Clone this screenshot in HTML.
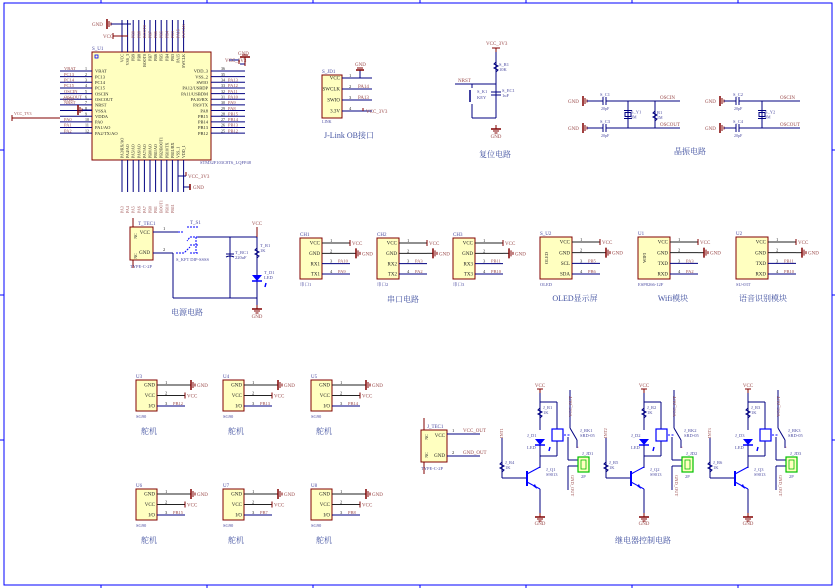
<!DOCTYPE html>
<html><head><meta charset="utf-8">
<style>
html,body{margin:0;padding:0;background:#fff;width:835px;height:588px;overflow:hidden}
svg{display:block}
text{font-family:"Liberation Serif","Noto Serif CJK SC",serif}
</style></head>
<body>
<svg id="s" width="835" height="588" viewBox="0 0 835 588" xmlns="http://www.w3.org/2000/svg">
<rect x="4" y="3" width="828" height="582" fill="none" stroke="#0000ff" stroke-width="1"/>
</svg>
<script>
var S=document.getElementById('s'),NS='http://www.w3.org/2000/svg';
var W='#000080',R='#800000',N='#9a4a4a',D='#4a4aa0',K='#222';
function el(t,a,txt){var e=document.createElementNS(NS,t);for(var k in a)e.setAttribute(k,a[k]);if(txt!=null)e.textContent=txt;S.appendChild(e);return e;}
function L(x1,y1,x2,y2,c,w){el('line',{x1:x1,y1:y1,x2:x2,y2:y2,stroke:c||W,'stroke-width':w||1});}
function T(x,y,s,sz,c,anc,rot){var a={x:x,y:y,'font-size':sz||5,fill:c||K};if(anc)a['text-anchor']=anc;if(rot)a.transform='rotate('+rot+' '+x+' '+y+')';el('text',a,s);}
function B(x,y,w,h){el('rect',{x:x,y:y,width:w,height:h,fill:'#ffffc0',stroke:R,'stroke-width':1});}
function GNDr(x,y){L(x,y-5,x,y+5,R,1.5);L(x+2,y-3,x+2,y+3,R,1);L(x+4,y-1.5,x+4,y+1.5,R,1);}
function GNDd(x,y){L(x,y,x,y+4,R);L(x-5,y+4,x+5,y+4,R,1.5);L(x-3,y+6,x+3,y+6,R);L(x-1.5,y+8,x+1.5,y+8,R);}
function TITLE(x,y,s){T(x,y,s,8,'#4050a0','middle');}
[101,207,313,420,526,632,738].forEach(function(x){L(x,0,x,3,'#0000ff');L(x,585,x,588,'#0000ff');});
[150,295,440].forEach(function(y){L(0,y,4,y,'#0000ff');L(832,y,835,y,'#0000ff');});

// ===== MCU =====
B(92,52,119,108);
T(92,50,'S_U1',5,D);
var lp=['VBAT','PC13','PC14','PC15','OSCIN','OSCOUT','NRST','VSSA','VDDA','PA0','PA1/AO','PA2/TX/AO'];
var ln=['VBAT','PC13','PC14','PC15','OSCIN','OSCOUT','NRST','GND','VCC_3V3','PA0','PA1','PA2'];
var rp=['VDD_3','VSS_2','SWIO','PA12/USBDP','PA11/USBDM','PA10/RX','PA9/TX','PA8','PB15','PB14','PB13','PB12'];
var rn=['','','PA13','PA12','PA11','PA10','PA9','PA8','PB15','PB14','PB13','PB12'];
for(var i=0;i<12;i++){var y=71+i*5.65;
 L(60,y,92,y);T(95,y+1.7,lp[i],4.5);T(85,y-0.8,''+(i+1),4);
 if(ln[i]!=='GND'&&ln[i]!=='VCC_3V3')T(64,y-0.8,ln[i],4.5,N);
 L(211,y,245,y);T(208,y+1.7,rp[i],4.5,K,'end');T(221,y-0.8,''+(36-i),4);
 if(rn[i])T(228,y-0.8,rn[i],4.5,N);}
T(63,101,'GND',5,N);GNDr(78,110);L(82,110,92,110);L(12,118,60,118,R);L(12,115,12,121,R);T(14,115,'VCC_TV3',4,N);
var tn=['','','PB9','PB8','BOOT0','PB7','PB6','PB5','PB4','PB3','PA15','SWCLK'];
for(var i=0;i<12;i++){var x=122+i*5.6;
 L(x,20,x,52);T(x+1.5,54,['VCC','VSS_3','PB9','PB8','BOOT0','PB7','PB6','PB5','PB4','PB3','PA15','SWCLK'][i],4,K,'end',-90);
 if(tn[i])T(x+1.5,38,tn[i],4,N,'start',-90);
 L(x,160,x,192);T(x+1.5,158,['PA3/RX/AO','PA4/AO','PA5/AO','PA6/AO','PA7/AO','PB0/AO','PB1/AO','PB2/BOOT1','PB10/TX','PB11/RX','VSS_1','VDD_1'][i],4,K,'start',-90);
 if(i<10)T(x+1.5,213,['PA3','PA4','PA5','PA6','PA7','PB0','PB1','BOOT1','PB10','PB11'][i],4,N,'start',-90);}
GNDr(107,24);L(111,24,131,24,W);T(92,26,'GND',5,N);
L(113,36,128,36,R);L(113,33,113,39,R);T(103,38,'VCC',5,N);
L(229,60,239,60);L(239,60,239,64,R);T(225,62,'VCC_3V3',5,N);L(240,64,245,64);
L(245,66,245,57,R);L(240,57,250,57,R,1.5);L(242,55,248,55,R);T(238,55,'GND',5,N);
L(178,176,186,176);L(186,176,186,172,R);T(188,178,'VCC_3V3',5,N);
L(183,187,190,187);L(190,184,190,190,R,1.5);T(193,189,'GND',5,N);
T(200,164,'STM32F103C8T6_LQFP48',4.5,D);
el('rect',{x:95,y:55,width:3,height:3,fill:'none',stroke:'#00f','stroke-width':0.8});

// ===== J-Link =====
T(322,73,'S_JD1',5,D);B(322,75,20,43);
['VCC','SWCLK','SWIO','3.3V'].forEach(function(s,i){var y=78+i*11;L(342,y,372,y);T(340,y+1.7,s,5,K,'end');T(349,y-1,''+(i+1),4.5);});
L(360,78,360,70);L(356,70,364,70,R,1.5);L(357,68,363,68,R);T(355,66,'GND',5,N);
T(358,88,'PA14',5,N);T(358,99,'PA13',5,N);L(363,111,363,108,R);T(366,113,'VCC_3V3',5,N);
T(322,123,'LINK',4,D);TITLE(349,138,'J-Link OB接口');

// ===== Reset =====
T(486,45,'VCC_3V3',5,N);L(496,48,496,52,R);L(492,48,500,48,R);
L(496,52,496,118);L(455,84,496,84);T(458,82,'NRST',5,N);
el('path',{d:'M496 62 l-2 2 l4 2 l-4 2 l4 2 l-2 2',fill:'none',stroke:W});T(499,66,'S_R1',4.5,D);T(499,71,'10K',4.5,D);
L(491,92,501,92);L(491,95,501,95);T(502,92,'S_EC1',4.5,D);T(502,97,'1uF',4.5,D);
L(472,84,472,88);L(472,104,472,118);L(470,90,470,102,W,1.5);T(477,93,'S_K1',4.5,D);T(477,99,'KEY',4.5,D);
L(472,118,496,118);GNDd(496,125);T(496,138,'GND',5,N,'middle');
TITLE(495,157,'复位电路');

// ===== Crystal =====
function xtal(g,c,y1,y2,xr,xe,r,names){
 GNDr(g,y1);GNDr(g,y2);T(g-15,y1+2,'GND',5,N);T(g-15,y2+2,'GND',5,N);
 [y1,y2].forEach(function(y,i){L(g+4,y,c-2,y);L(c-2,y-4,c-2,y+4);L(c+1,y-4,c+1,y+4);L(c+1,y,xe,y);T(c-5,y-5,names[i],4.5,D);T(c-4,y+9,names[i+2],4,D);});
 L(xr,y1,xr,y2);el('rect',{x:xr-3,y:(y1+y2)/2-2,width:6,height:4,fill:'none',stroke:W});L(xr-4,(y1+y2)/2-4,xr+4,(y1+y2)/2-4);L(xr-4,(y1+y2)/2+4,xr+4,(y1+y2)/2+4);
 T(xr+3,(y1+y2)/2-1,names[4],4.5,D);T(xr+3,(y1+y2)/2+4,names[5],4,D);
 if(r){L(r,y1,r,y2);el('path',{d:'M'+r+' '+(y1+10)+' l-2 2 l4 2 l-4 2 l4 2 l-2 2',fill:'none',stroke:W});T(r+2,y1+13,'R1',4.5,D);T(r+2,y1+18,'1M',4,D);}
 T(xe-20,y1-2,'OSCIN',5,N);T(xe-20,y2-2,'OSCOUT',5,N);}
xtal(583,605,101,128,628,680,655,['S_C1','S_C3','20pF','20pF','S_Y1','8M']);
xtal(720,738,101,128,762,800,0,['S_C2','S_C4','20pF','20pF','S_Y2','8M']);
TITLE(690,154,'晶振电路');

// ===== Power =====
T(138,225,'T_TEC1',5,D);B(130,227,23,33);
T(150,234,'VCC',5,K,'end');T(150,254,'GND',5,K,'end');T(137,236,'NC',4,K,'middle',-90);T(137,256,'NC',4,K,'middle',-90);
L(133,218,133,227,R);L(133,260,133,268,R);
T(130,268,'TYPE-C-2P',4.5,D);
L(153,232,178,232);L(153,253,173,253);L(173,253,173,298);
T(163,230,'1',4.5);T(163,251,'2',4.5);
el('path',{d:'M178 232 l6 0 M198 227 l-12 0 M198 237 l-8 0 l-3 4 M198 245 l-8 0 M176 253 l8 0 l6 -6 M198 253 l-8 0 M196 237 l0 16',fill:'none',stroke:'#00f','stroke-dasharray':'2,1'});
T(190,224,'T_S1',5,D);T(176,261,'S_KFT DIP-SSSS',4.5,D);
L(198,237,257,237);L(230,237,230,298);L(226,254,234,254);el('path',{d:'M226 257 q4 -2 8 0',fill:'none',stroke:W});T(235,254,'T_BC1',4.5,D);T(235,259,'220uF',4.5,D);
T(257,225,'VCC',5,N,'middle');L(257,227,257,237,R);L(257,237,257,298);
el('path',{d:'M257 248 l-2 2 l4 2 l-4 2 l4 2 l-2 2',fill:'none',stroke:W});T(260,247,'T_R1',4.5,D);T(260,252,'1K',4.5,D);
el('path',{d:'M252 275 l10 0 l-5 6 z',fill:'#00f'});L(252,281,262,281,'#00f',1.5);T(264,274,'T_D1',4.5,D);T(264,279,'LED',4.5,D);L(266,283,265,287,'#00f',1.5);
L(173,298,257,298);L(257,298,257,305);GNDd(257,305);T(257,318,'GND',5,N,'middle');
TITLE(187,315,'电源电路');

function mod(x,y,w,h,name,foot,pins,nets,vert,vt){
 T(x,y-2,name,5,D);B(x,y,w,h);T(x,y+h+7,foot,4.5,D);
 pins.forEach(function(p,i){var yy=y+5+i*(h-10)/(pins.length-1);L(x+w,yy,x+w+28,yy,i<2?K:W);T(x+w-2,yy+1.7,p,5,K,'end');T(x+w+8,yy-1,''+(i+1),4.5);
  var n=nets[i];if(n==='GND'){L(x+w+28,yy,x+w+34,yy,K);L(x+w+34,yy-5,x+w+34,yy+5,R,1.5);L(x+w+36,yy-3,x+w+36,yy+3,R);L(x+w+38,yy-1.5,x+w+38,yy+1.5,R);T(x+w+40,yy+2,'GND',5,N);}
  else if(n==='VCC'){L(x+w+28,yy-3,x+w+28,yy+3,R);T(x+w+30,yy+2,'VCC',5,N);}
  else{T(x+w+16,yy-1,n,4.5,N);}});
 if(vert)T(x+8,y+h/2,vt,4.5,K,'middle',-90);}
mod(300,238,22,41,'CH1','串口1',['VCC','GND','RX1','TX1'],['VCC','GND','PA10','PA9']);
mod(377,238,22,41,'CH2','串口2',['VCC','GND','RX2','TX2'],['VCC','GND','PA3','PA2']);
mod(453,238,22,41,'CH3','串口3',['VCC','GND','RX3','TX3'],['VCC','GND','PB11','PB10']);
TITLE(403,302,'串口电路');
mod(540,237,32,42,'S_U2','OLED',['VCC','GND','SCL','SDA'],['VCC','GND','PB5','PB6'],1,'OLED');
mod(638,237,32,42,'U1','ESP8266-12F',['VCC','GND','TXD','RXD'],['VCC','GND','PA3','PA2'],1,'WIFI');
mod(736,237,32,42,'U2','SU-03T',['VCC','GND','TXD','RXD'],['VCC','GND','PB11','PB10']);
TITLE(575,301,'OLED显示屏');TITLE(673,301,'Wifi模块');TITLE(763,301,'语音识别模块');

[[136,380,'U3','PB12'],[223,380,'U4','PB13'],[311,380,'U5','PB14'],[136,489,'U6','PB15'],[223,489,'U7','PB7'],[311,489,'U8','PB8']].forEach(function(a){
 mod(a[0],a[1],21,31,a[2],'SG90',['GND','VCC','I/O'],['GND','VCC',a[3]]);
 TITLE(a[0]+13,a[1]+54,'舵机');});

T(427,428,'J_TEC1',5,D);B(421,430,26,32);
T(445,437,'VCC',5,K,'end');T(445,457,'GND',5,K,'end');T(428,437,'NC',4,K,'middle',-90);T(428,455,'NC',4,K,'middle',-90);
L(424,418,424,430,R);L(424,462,424,474,R);T(421,470,'TYPE-C-2P',4.5,D);
L(447,434,480,434);L(447,456,480,456);T(452,432,'1',4.5);T(452,454,'2',4.5);T(463,432,'VCC_OUT',5,N);T(463,454,'GND_OUT',5,N);

[0,104,208].forEach(function(o,i){var x=540+o;
 T(x,387,'VCC',5,N,'middle');L(x,389,x,393,R);L(x-3,389,x+3,389,R);
 L(x,393,x,430);el('path',{d:'M'+x+' 408 l-2 2 l4 2 l-4 2 l4 2 l-2 2',fill:'none',stroke:W});T(x+3,409,'J_R'+(i+1),4.5,D);T(x+3,414,'1K',4.5,D);
 el('path',{d:'M'+(x-5)+' 439 l10 0 l-5 6 z',fill:'#00f'});L(x-5,445,x+5,445,'#00f',1.5);T(x-13,437,'J_D'+(i+1),4.5,D);T(x-13,449,'LED',4.5,D);L(x+10,447,x+9,451,'#00f',1.5);
 L(x,445,x,468);L(x,456,x+17,456);L(x+17,456,x+17,441);
 L(x,402,x+17,402);L(x+17,402,x+17,429);
 el('rect',{x:x+12,y:429,width:11,height:12,fill:'none',stroke:'#00f','stroke-width':1.2});
 el('path',{d:'M'+(x+24)+' 435 l6 0',stroke:'#00f','stroke-dasharray':'2,1.5'});
 L(x+28,437,x+28,460);L(x+28,460,x+38,460);L(x+28,466,x+38,466);
 L(x+30,395,x+30,428);L(x+30,428,x+37,440);L(x+37,440,x+37,448);T(x+37,449,'·',6,'#d00');
 T(x+40,432,'J_RK'+(i+1),4.5,D);T(x+40,437,'SRD-05',4.5,D);
 el('rect',{x:x+38,y:457,width:11,height:15,fill:'#ffffc0',stroke:'#00c000','stroke-width':1.2});
 el('rect',{x:x+41,y:460,width:5,height:9,fill:'none',stroke:'#00c000','stroke-width':0.8});
 T(x+42,455,'J_JD'+(i+1),4.5,D);T(x+41,478,'2P',4.5,D);
 T(x+32,396,'VCC_OUT',4.5,N,'end',-90);L(x+30,395,x+30,390);
 L(x+28,466,x+28,490);T(x+31,475,'GND_OUT',4.5,N,'start',90);
 L(x-38,438,x-38,478);T(x-37,438,'INT'+(i+1),4.5,N,'start',-90);el('path',{d:'M'+(x-38)+' 462 l-2 2 l4 2 l-4 2 l4 2 l-2 2',fill:'none',stroke:W});T(x-35,464,'J_R'+(i+4),4.5,D);T(x-35,469,'1K',4.5,D);
 L(x-38,478,x-13,478);L(x-13,471,x-13,486,'#00f',2);L(x-13,474,x,467,'#00f');L(x-13,482,x,489,'#00f');
 el('path',{d:'M'+(x-3)+' 489 l-4 -3 l2 -2 z',fill:'#00f'});
 L(x,489,x,513);GNDd(x,513);T(x,525,'GND',5,N,'middle');
 T(x+6,471,'J_Q'+(i+1),4.5,D);T(x+6,476,'S9013',4.5,D);});
TITLE(643,543,'继电器控制电路');
</script>
</body></html>
